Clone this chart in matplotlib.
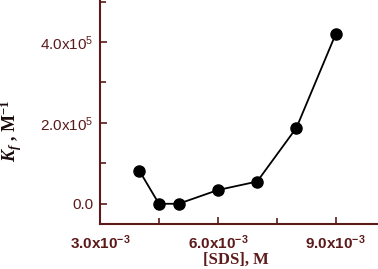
import matplotlib
matplotlib.use("Agg")
import matplotlib.pyplot as plt
from matplotlib.ticker import FixedLocator, FixedFormatter, MultipleLocator

# data
sds = [4.0e-3, 4.5e-3, 5.0e-3, 6.0e-3, 7.0e-3, 8.0e-3, 9.0e-3]
kf = [8.2e4, 0.0, 0.0, 3.4e4, 5.5e4, 1.88e5, 4.2e5]

xticks = [3.0e-3, 6.0e-3, 9.0e-3]
xticklabels = [r"3.0x10$^{-3}$", r"6.0x10$^{-3}$", r"9.0x10$^{-3}$"]
yticks = [0.0, 2.0e5, 4.0e5]
yticklabels = ["0.0", r"2.0x10$^5$", r"4.0x10$^5$"]

AX_COL = "#5c1a1a"

plt.rcParams["font.family"] = ["Liberation Sans", "DejaVu Sans"]
plt.rcParams["mathtext.default"] = "regular"
plt.rcParams["mathtext.fontset"] = "custom"
plt.rcParams["mathtext.it"] = "Liberation Serif:italic:bold"
plt.rcParams["mathtext.rm"] = "Liberation Serif:bold"

fig = plt.figure(figsize=(3.78, 2.69), dpi=100)
ax = fig.add_axes([100 / 378, 1 - 224 / 269, 277 / 378, 224 / 269])

ax.plot(sds, kf, color="black", lw=1.3, marker="o", ms=8, mfc="black", mec="black")

ax.set_xlim(3.0e-3, 10.05e-3)
ax.set_ylim(-5e4, 5.04e5)

ax.xaxis.set_major_locator(FixedLocator(xticks))
ax.xaxis.set_major_formatter(FixedFormatter(xticklabels))
ax.xaxis.set_minor_locator(MultipleLocator(1.5e-3))
ax.yaxis.set_major_locator(FixedLocator(yticks))
ax.yaxis.set_major_formatter(FixedFormatter(yticklabels))
ax.yaxis.set_minor_locator(MultipleLocator(1.0e5))

for side in ("top", "right"):
    ax.spines[side].set_visible(False)
for side in ("left", "bottom"):
    ax.spines[side].set_color(AX_COL)
    ax.spines[side].set_linewidth(1.5)

ax.tick_params(which="both", direction="in", color=AX_COL, width=1.2)
ax.tick_params(which="major", length=5)
ax.tick_params(which="minor", length=4)
ax.tick_params(axis="y", labelsize=11, labelcolor=AX_COL, pad=5)
ax.tick_params(axis="x", labelsize=11, labelcolor=AX_COL, pad=7)
for lab in ax.get_xticklabels():
    lab.set_fontweight("bold")

ax.set_xlabel("[SDS], M", family="Liberation Serif", fontweight="bold",
              fontsize=12, color=AX_COL)
ax.xaxis.set_label_coords(0.49, -0.125)
ax.set_ylabel(r"$\mathit{K}_{\mathit{f}}$ , M$^{-1}$", family="Liberation Serif",
              fontweight="bold", fontsize=13, color="#1a0a0a")
ax.yaxis.set_label_coords(-0.275, 0.415)

fig.savefig("out.png", dpi=100)
